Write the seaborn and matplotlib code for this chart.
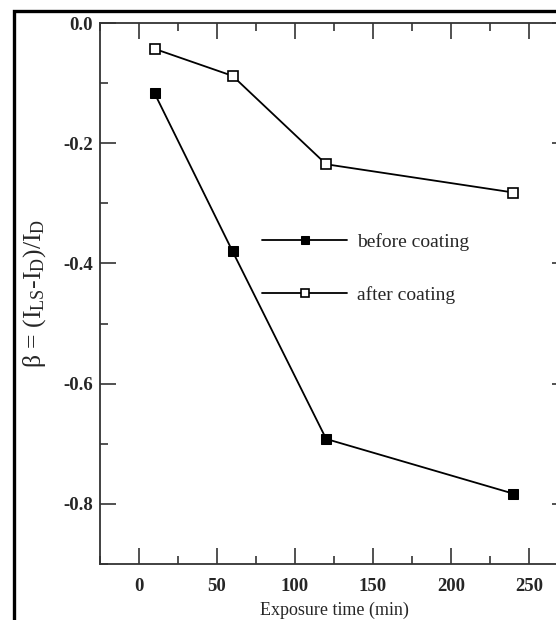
import matplotlib
matplotlib.use('Agg')
import matplotlib.pyplot as plt
import seaborn as sns
import pandas as pd
from matplotlib.patches import Rectangle
from matplotlib.ticker import MultipleLocator

# values
exposure_min = [10, 60, 120, 240]
beta_before = [-0.117, -0.38, -0.692, -0.783]
beta_after = [-0.043, -0.088, -0.235, -0.282]
series_labels = ['before coating', 'after coating']

sns.set_style('ticks')
plt.rcParams['font.family'] = ['Liberation Serif', 'DejaVu Serif']
plt.rcParams['mathtext.fontset'] = 'custom'
plt.rcParams['mathtext.rm'] = 'Liberation Serif'
plt.rcParams['mathtext.it'] = 'Liberation Serif:italic'
plt.rcParams['axes.unicode_minus'] = False

df = pd.DataFrame({
    'time': exposure_min * 2,
    'beta': beta_before + beta_after,
    'series': [series_labels[0]] * 4 + [series_labels[1]] * 4,
})

fig = plt.figure(figsize=(5.56, 6.2), dpi=100)
# outer frame of the original figure (cut off on right and bottom)
fig.patches.append(Rectangle((14 / 556, -0.1), 1.2, 1 - 11 / 620 + 0.1,
                             transform=fig.transFigure, fill=False,
                             edgecolor='black', linewidth=2.4))

ax = fig.add_axes([100 / 556, 1 - 564 / 620, 468 / 556, 541 / 620])

sns.lineplot(data=df[df.series == series_labels[0]], x='time', y='beta', ax=ax,
             color='black', marker='s', markersize=7.5, markerfacecolor='black',
             markeredgecolor='black', linewidth=1.3, label=series_labels[0])
sns.lineplot(data=df[df.series == series_labels[1]], x='time', y='beta', ax=ax,
             color='black', marker='s', markersize=7.5, markerfacecolor='white',
             markeredgecolor='black', markeredgewidth=1.2, linewidth=1.3,
             label=series_labels[1])

ax.set_xlim(-25, 275)
ax.set_ylim(-0.9, 0.0)
ax.xaxis.set_major_locator(MultipleLocator(50))
ax.xaxis.set_minor_locator(MultipleLocator(25))
ax.yaxis.set_major_locator(MultipleLocator(0.2))
ax.yaxis.set_minor_locator(MultipleLocator(0.1))
ax.yaxis.set_major_formatter(matplotlib.ticker.FormatStrFormatter('%.1f'))

ax.tick_params(which='both', direction='in', top=True, right=True,
               width=1.2, color='#333333')
ax.tick_params(which='major', length=11.5)
ax.tick_params(which='minor', length=6)
ax.tick_params(axis='x', pad=10)
ax.tick_params(axis='y', pad=5)
for lab in ax.get_xticklabels() + ax.get_yticklabels():
    lab.set_fontweight('bold')
    lab.set_fontsize(13.5)
for sp in ax.spines.values():
    sp.set_linewidth(1.3)
    sp.set_color('#333333')

ax.set_xlabel('Exposure time (min)', fontsize=13, labelpad=5)
ax.set_ylabel(r'β = (I$_{\mathrm{LS}}$-I$_{\mathrm{D}}$)/I$_{\mathrm{D}}$',
              fontsize=18.5, labelpad=11)

ax.legend(loc='upper left', bbox_to_anchor=(0.346, 0.612), frameon=False,
          fontsize=14, handlelength=4.4, handletextpad=0.5,
          labelspacing=1.8, markerscale=0.85, borderpad=0, borderaxespad=0)

fig.savefig('out.png', dpi=100)
